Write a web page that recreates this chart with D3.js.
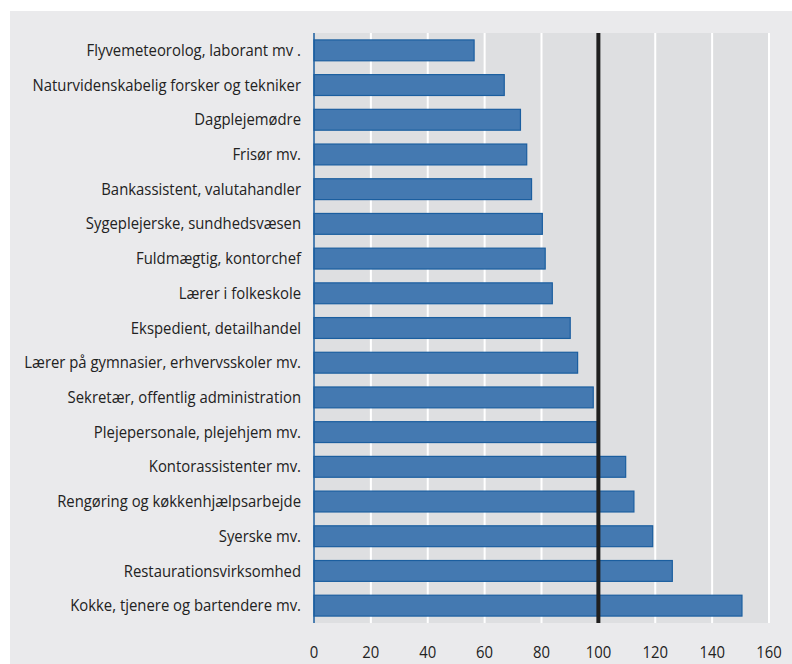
<!DOCTYPE html>
<html><head><meta charset="utf-8">
<script src="https://cdn.jsdelivr.net/npm/d3@7"></script>
<style>
html,body{margin:0;padding:0;background:#fff;}
svg{display:block;}
text{font-family:"Open Sans",sans-serif;}
</style></head>
<body>
<svg id="c" width="792" height="664"></svg>
<script>
const categories = [
 "Flyvemeteorolog, laborant mv .",
 "Naturvidenskabelig forsker og tekniker",
 "Dagplejemødre",
 "Frisør mv.",
 "Bankassistent, valutahandler",
 "Sygeplejerske, sundhedsvæsen",
 "Fuldmægtig, kontorchef",
 "Lærer i folkeskole",
 "Ekspedient, detailhandel",
 "Lærer på gymnasier, erhvervsskoler mv.",
 "Sekretær, offentlig administration",
 "Plejepersonale, plejehjem mv.",
 "Kontorassistenter mv.",
 "Rengøring og køkkenhjælpsarbejde",
 "Syerske mv.",
 "Restaurationsvirksomhed",
 "Kokke, tjenere og bartendere mv."
];
const values = [56.3, 66.9, 72.6, 74.8, 76.5, 80.3, 81.3, 83.8, 90.1, 92.7, 98.2, 99.6, 109.6, 112.5, 119.1, 126.0, 150.5];
const tickValues = [0, 20, 40, 60, 80, 100, 120, 140, 160];
const referenceValue = 100;

const svg = d3.select("#c");
const plot = {left: 314, right: 769, top: 33, bottom: 623};

svg.append("rect").attr("x", 10).attr("y", 11).attr("width", 782).attr("height", 653).attr("fill", "#eaeaec");
svg.append("rect").attr("x", plot.left).attr("y", plot.top).attr("width", plot.right - plot.left).attr("height", plot.bottom - plot.top).attr("fill", "#dedfe1");

const x = d3.scaleLinear().domain([0, 160]).range([plot.left, plot.right]);
const y = d3.scaleBand().domain(categories).range([plot.top, plot.bottom]).paddingInner(0.37).paddingOuter(0.185);

// gridlines
svg.append("g").selectAll("line").data(tickValues.filter(d => d > 0)).join("line")
  .attr("x1", d => x(d)).attr("x2", d => x(d))
  .attr("y1", plot.top).attr("y2", plot.bottom)
  .attr("stroke", "#ffffff").attr("stroke-width", 2);

// bars
svg.append("g").selectAll("rect").data(values).join("rect")
  .attr("x", x(0))
  .attr("y", (d, i) => y(categories[i]) + 0.5)
  .attr("width", d => x(d) - x(0))
  .attr("height", y.bandwidth() - 1)
  .attr("fill", "#4479b1")
  .attr("stroke", "#1b5e9f")
  .attr("stroke-width", 1.2);

// left axis line
svg.append("line").attr("x1", x(0)).attr("x2", x(0)).attr("y1", plot.top).attr("y2", plot.bottom)
  .attr("stroke", "#1b5e9f").attr("stroke-width", 1.5);

// reference line
svg.append("line").attr("x1", x(referenceValue)).attr("x2", x(referenceValue))
  .attr("y1", plot.top).attr("y2", plot.bottom)
  .attr("stroke", "#1f1f1f").attr("stroke-width", 4);

// category labels
svg.append("g").selectAll("text").data(categories).join("text")
  .attr("transform", d => `translate(301,${y(d) + y.bandwidth() / 2}) scale(0.93,1)`)
  .attr("dy", "0.35em")
  .attr("text-anchor", "end")
  .attr("font-size", 16)
  .attr("fill", "#222")
  .text(d => d);

// x tick labels
svg.append("g").selectAll("text").data(tickValues).join("text")
  .attr("transform", d => `translate(${x(d)},652) scale(0.93,1)`)
  .attr("dy", "0.35em")
  .attr("text-anchor", "middle")
  .attr("font-size", 16)
  .attr("fill", "#222")
  .text(d => d);
</script>
</body></html>
